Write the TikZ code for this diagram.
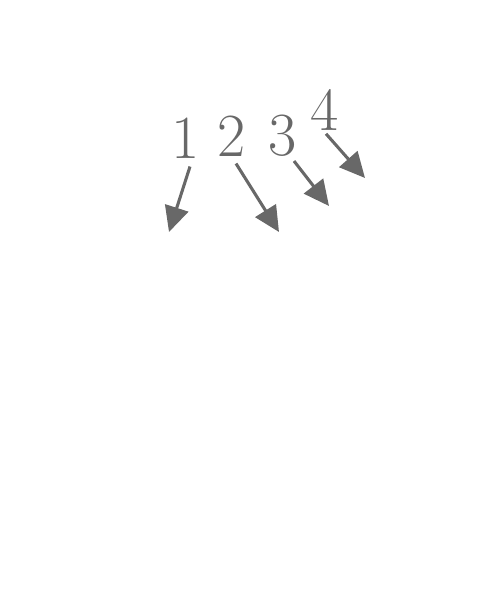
\documentclass[tikz,border=0pt]{standalone}
\usepackage{tikz}
\usetikzlibrary{arrows.meta, positioning}
\definecolor{markgray}{RGB}{104,104,104}

\begin{document}
\begin{tikzpicture}[
x=0.75pt, y=-0.75pt,
>={Triangle[length=19pt, width=18pt]},
every node/.style={font=\fontsize{46}{46}\selectfont, text=markgray, inner sep=3pt}
]
\useasboundingbox (0,0) rectangle (480,591);

\node (one) at (186,138) {1};
\node (two) at (232,136) {2};
\node (three) at (283,136) {3};
\node (four) at (325,110) {4};

\coordinate (tipone) at (169,232);
\coordinate (tiptwo) at (279,232);
\coordinate (tipthree) at (329,206);
\coordinate (tipfour) at (365,178);

\draw[->, markgray, line width=2.3pt] ([shift={(4,4)}]one.south) -- (tipone);
\draw[->, markgray, line width=2.3pt] ([shift={(4,3)}]two.south) -- (tiptwo);
\draw[->, markgray, line width=2.3pt] ([shift={(11,0)}]three.south) -- (tipthree);
\draw[->, markgray, line width=2.3pt] ([shift={(1,-1)}]four.south) -- (tipfour);

\end{tikzpicture}
\end{document}
